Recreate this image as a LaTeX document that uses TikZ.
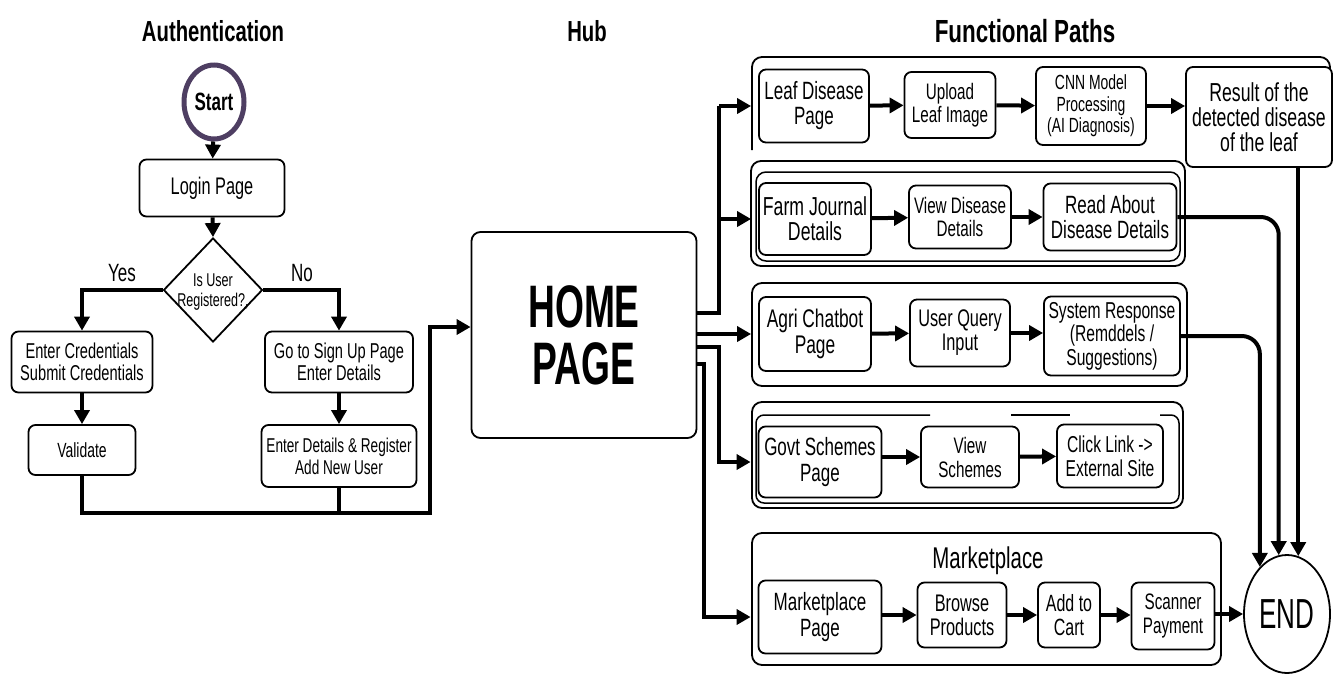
\documentclass[tikz,border=0pt]{standalone}
\usepackage{fontspec}
\setmainfont{Liberation Sans}[FakeStretch=0.68]
\newfontfamily\homefont{Liberation Sans}[FakeStretch=0.62]
\newfontfamily\titlefont{Liberation Sans}[FakeStretch=0.7]
\usetikzlibrary{arrows.meta,shapes.geometric}
\definecolor{ring}{RGB}{78,62,98}
\begin{document}
\begin{tikzpicture}[x=1pt,y=-1pt,
  fs/.style 2 args={font=\fontsize{#1}{#2}\selectfont},
  box/.style={draw, line width=1.8pt, rounded corners=7pt, fill=white, align=center, inner sep=0pt},
  frame/.style={draw, line width=1.8pt, rounded corners=10pt},
  conn/.style={line width=4pt},
  arr/.style={line width=4pt, -{Triangle[length=14pt,width=15pt]}},
  title/.style={font=\titlefont\fontsize{29}{32}\selectfont\bfseries}
]
\useasboundingbox (0,0) rectangle (1336,673);

% titles
\node[title] (t1) at (213,31) {Authentication};
\node[title] (t2) at (587,31) {Hub};
\node[title, font=\titlefont\fontsize{32}{34}\selectfont\bfseries] (t3) at (1025,31) {Functional Paths};

% ---------- authentication ----------
\node[ellipse, draw=ring, line width=5pt, minimum width=60pt, minimum height=74pt, inner sep=0pt, font=\fontsize{25}{27}\selectfont\bfseries] (start) at (214,102) {Start};
\node[box, fs={24}{26}, minimum width=145pt, minimum height=57pt] (login) at (212,188) {Login Page};
\node[diamond, draw, line width=1.8pt, minimum width=99pt, minimum height=104pt, inner sep=0pt] (reg) at (213,290) {};
\node[fs={18.5}{20.5}, align=center] (regt) at (213,292) {Is User\\Registered?,};
\node[box, fs={21.5}{22}, minimum width=141pt, minimum height=61pt] (cred) at (82,362) {Enter Credentials\\Submit Credentials};
\node[box, fs={20.5}{22}, minimum width=107pt, minimum height=50pt] (valid) at (82,450) {Validate};
\node[box, fs={21.5}{22}, minimum width=148pt, minimum height=61pt] (signup) at (339,362) {Go to Sign Up Page\\Enter Details};
\node[box, fs={20}{22}, minimum width=155pt, minimum height=62pt] (register) at (339,456) {Enter Details \& Register\\Add New User};
\node[fs={25}{27}] (yes) at (122,273) {Yes};
\node[fs={25}{27}] (no) at (302,273) {No};

\draw[arr] (start) -- (login);
\draw[arr] (login) -- (reg.north);
\draw[arr] (reg.west) -| (cred.north);
\draw[arr] (reg.east) -| (signup.north);
\draw[arr] (cred) -- (valid);
\draw[arr] (signup) -- (register);

% ---------- hub ----------
\node[box, rounded corners=9pt, minimum width=225pt, minimum height=206pt, font=\homefont\fontsize{60}{57}\selectfont\bfseries] (home) at (584,335) {HOME\\PAGE};

\coordinate (b1) at (430,513);
\coordinate (b2) at (430,327);
\draw[arr] (valid.south) |- (b1) -- (b2) -- (b2 -| home.west);
\draw[conn] (register.south) -- (register.south |- b1);

% ---------- frames ----------
\draw[frame] (752,150) -- (752,57) -- (1330,57) -- (1330,110);
\draw[frame] (751,161) rectangle (1185,266);
\draw[frame, line width=1.5pt] (756,172) rectangle (1180,261);
\draw[frame] (752,283) rectangle (1187,386);
\draw[frame] (752,402) rectangle (1183,508);
\draw[line width=1.5pt, rounded corners=8pt] (930,415) -- (756,415) -- (756,503) -- (1179,503) -- (1179,415) -- (1160,415);
\draw[line width=1.5pt] (1011,415) -- (1070,415);
\draw[frame] (752,533) rectangle (1221,665);
\node[fs={30}{32}] (mkttitle) at (988,561) {Marketplace};

% ---------- rows ----------
\node[box, fs={25}{25}, minimum width=110pt, minimum height=73pt] (leaf) at (814,106) {Leaf Disease\\Page};
\node[box, fs={22.4}{23}, minimum width=91pt, minimum height=66pt] (upload) at (950,105) {Upload\\Leaf Image};
\node[box, fs={20.5}{21.5}, minimum width=110pt, minimum height=78pt] (cnn) at (1091,106) {CNN Model\\Processing\\(AI Diagnosis)};
\node[box, fs={26}{25}, minimum width=146pt, minimum height=100pt] (result) at (1259,117) {Result of the\\detected disease\\of the leaf};

\node[box, fs={26}{25}, minimum width=112pt, minimum height=72pt] (farm) at (815,219) {Farm Journal\\Details};
\node[box, fs={22.4}{23}, minimum width=102pt, minimum height=63pt] (viewd) at (960,217) {View Disease\\Details};
\node[box, fs={25}{25}, minimum width=133pt, minimum height=67pt] (read) at (1110,217) {Read About\\Disease Details};

\node[box, fs={25.5}{26}, minimum width=112pt, minimum height=74pt] (agri) at (815,334) {Agri Chatbot\\Page};
\node[box, fs={24}{24}, minimum width=100pt, minimum height=67pt] (query) at (960,333) {User Query\\Input};
\node[box, fs={23}{23.5}, minimum width=136pt, minimum height=79pt] (sysr) at (1112,336) {System Response\\(Remddels /\\Suggestions)};

\node[box, fs={25}{26}, minimum width=123pt, minimum height=71pt] (govt) at (820,462) {Govt Schemes\\Page};
\node[box, fs={22.4}{24}, minimum width=98pt, minimum height=61pt] (views) at (970,457) {View\\Schemes};
\node[box, fs={23}{24}, minimum width=106pt, minimum height=63pt] (click) at (1110,456) {Click Link ->\\External Site};

\node[box, fs={25}{26}, minimum width=123pt, minimum height=73pt] (mkt) at (820,617) {Marketplace\\Page};
\node[box, fs={24}{24}, minimum width=89pt, minimum height=65pt] (browse) at (962,615) {Browse\\Products};
\node[box, fs={23.5}{24}, minimum width=62pt, minimum height=65pt] (cart) at (1069,615) {Add to\\Cart};
\node[box, fs={22.4}{24}, minimum width=83pt, minimum height=67pt] (scan) at (1173,616) {Scanner\\Payment};

\node[ellipse, draw, line width=1.8pt, fill=white, minimum width=86pt, minimum height=118pt, inner sep=0pt, font=\homefont\fontsize{42}{44}\selectfont] (end) at (1287,614) {END};

% row arrows
\draw[arr] (leaf) -- (upload);
\draw[arr] (upload) -- (cnn);
\draw[arr] (cnn) -- (result.west |- cnn);
\draw[arr] (farm) -- (viewd);
\draw[arr] (viewd) -- (read);
\draw[arr] (agri) -- (query);
\draw[arr] (query) -- (sysr.west |- query);
\draw[arr] (govt.east |- views) -- (views);
\draw[arr] (views) -- (click);
\draw[arr] (mkt.east |- browse) -- (browse);
\draw[arr] (browse) -- (cart);
\draw[arr] (cart) -- (scan.west |- cart);
\draw[arr] (scan.east |- end) -- (end.west);

% hub distribution
\coordinate (busA) at (719,313);
\coordinate (busC) at (719,347);
\coordinate (busD) at (704,364);
\draw[conn] (home.east |- busA) -- (busA) -- (busA |- leaf);
\draw[arr, shorten >=7pt] (busA |- leaf) -- (leaf.west);
\draw[arr, shorten >=7pt] (busA |- farm) -- (farm.west);
\draw[arr, shorten >=7pt] (home.east |- agri) -- (agri.west);
\draw[arr, shorten >=7pt] (home.east |- busC) -- (busC) |- (govt.west);
\draw[arr, shorten >=7pt] (home.east |- busD) -- (busD) |- (mkt.west);

% to END
\draw[arr] (end.79 |- result.south) -- (end.79);
\draw[arr, rounded corners=18pt] (read.east) -| (end.98);
\draw[arr, rounded corners=18pt] (sysr.east) -| (end.120);
\end{tikzpicture}
\end{document}
